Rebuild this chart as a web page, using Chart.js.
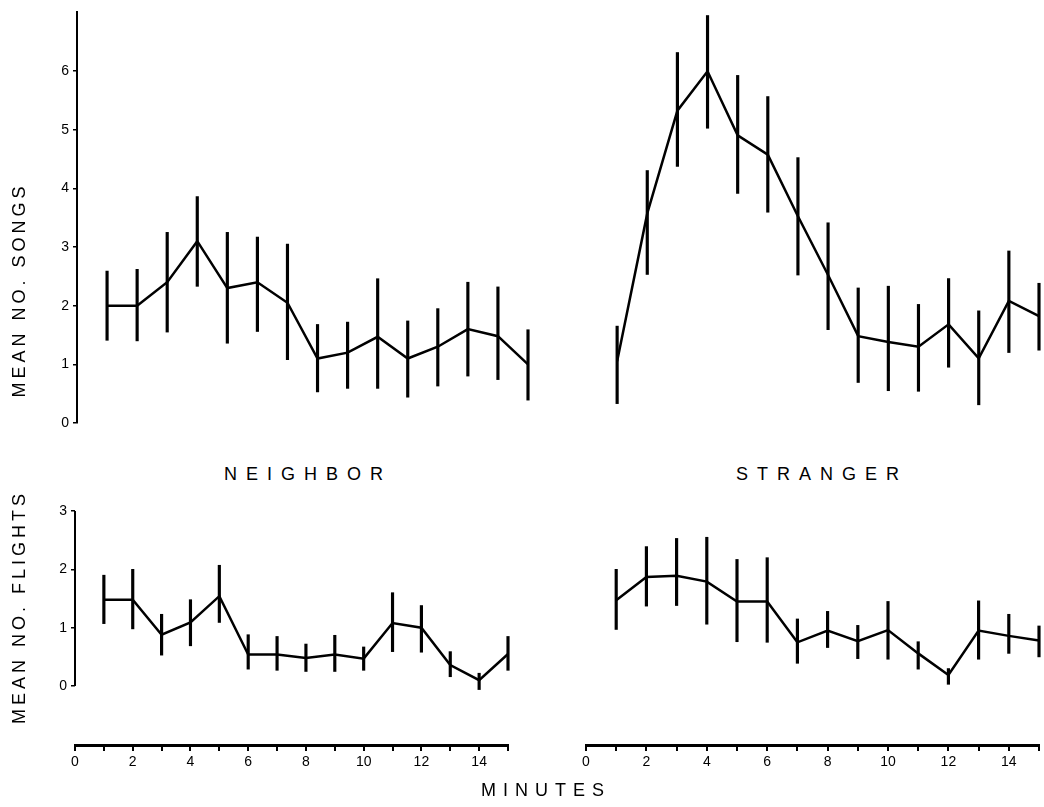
<!DOCTYPE html>
<html>
<head>
<meta charset="utf-8">
<script src="https://cdn.jsdelivr.net/npm/chart.js@4.4.1/dist/chart.umd.min.js"></script>
<style>
  body { margin: 0; background: #fff; }
  #wrap { position: relative; width: 1044px; height: 807px; font-family: 'Liberation Sans', Arial, sans-serif; color: #000; }
  canvas { position: absolute; }
  .lbl { position: absolute; font-size: 18px; white-space: nowrap; line-height: 1; }
  .rot { transform: translate(-50%, -50%) rotate(-90deg); }
  .ctr { transform: translate(-50%, -50%); }
</style>
</head>
<body>
<div id="wrap">
  <canvas id="songsNeighbor" width="540" height="440" style="left:0;top:0"></canvas>
  <canvas id="songsStranger" width="484" height="440" style="left:560px;top:0"></canvas>
  <canvas id="flightsNeighbor" width="540" height="317" style="left:0;top:490px"></canvas>
  <canvas id="flightsStranger" width="484" height="317" style="left:560px;top:490px"></canvas>

  <div class="lbl rot" style="left:19px;top:290px;letter-spacing:4px">MEAN NO. SONGS</div>
  <div class="lbl rot" style="left:19px;top:607px;letter-spacing:4px">MEAN NO. FLIGHTS</div>
  <div class="lbl ctr" style="left:308px;top:474px;letter-spacing:9px">NEIGHBOR</div>
  <div class="lbl ctr" style="left:822px;top:474px;letter-spacing:9px">STRANGER</div>
  <div class="lbl ctr" style="left:546px;top:790px;letter-spacing:7px">MINUTES</div>
</div>
<script>
var minutes = [1, 2, 3, 4, 5, 6, 7, 8, 9, 10, 11, 12, 13, 14, 15];
var songTicks = [0, 1, 2, 3, 4, 5, 6];
var flightTicks = [0, 1, 2, 3];
var minuteTicks = [0, 2, 4, 6, 8, 10, 12, 14];

var neighborSongs   = [2.0, 2.0, 2.4, 3.1, 2.3, 2.4, 2.05, 1.1, 1.2, 1.47, 1.1, 1.3, 1.6, 1.48, 1.0];
var neighborSongsLo = [1.41, 1.40, 1.55, 2.33, 1.36, 1.56, 1.08, 0.53, 0.59, 0.59, 0.44, 0.63, 0.80, 0.74, 0.39];
var neighborSongsHi = [2.59, 2.62, 3.25, 3.86, 3.25, 3.17, 3.05, 1.68, 1.72, 2.46, 1.74, 1.95, 2.40, 2.32, 1.59];

var strangerSongs   = [1.05, 3.57, 5.32, 5.99, 4.9, 4.57, 3.52, 2.52, 1.48, 1.38, 1.30, 1.68, 1.10, 2.08, 1.82];
var strangerSongsLo = [0.33, 2.53, 4.37, 5.02, 3.91, 3.59, 2.52, 1.59, 0.69, 0.55, 0.54, 0.95, 0.31, 1.20, 1.24];
var strangerSongsHi = [1.65, 4.30, 6.31, 6.94, 5.92, 5.56, 4.52, 3.41, 2.30, 2.33, 2.02, 2.46, 1.91, 2.93, 2.38];

var neighborFlights   = [1.48, 1.48, 0.88, 1.09, 1.54, 0.54, 0.54, 0.48, 0.54, 0.47, 1.08, 1.0, 0.36, 0.10, 0.55];
var neighborFlightsLo = [1.07, 0.98, 0.53, 0.69, 1.09, 0.29, 0.27, 0.25, 0.25, 0.27, 0.59, 0.58, 0.16, -0.06, 0.27];
var neighborFlightsHi = [1.90, 2.0, 1.23, 1.48, 2.07, 0.88, 0.85, 0.72, 0.87, 0.67, 1.60, 1.38, 0.59, 0.22, 0.85];

var strangerFlights   = [1.47, 1.87, 1.89, 1.79, 1.45, 1.45, 0.75, 0.95, 0.77, 0.96, 0.56, 0.19, 0.95, 0.86, 0.78];
var strangerFlightsLo = [0.97, 1.37, 1.38, 1.06, 0.76, 0.75, 0.39, 0.66, 0.47, 0.46, 0.29, 0.03, 0.46, 0.56, 0.50];
var strangerFlightsHi = [2.0, 2.39, 2.53, 2.55, 2.17, 2.20, 1.15, 1.28, 1.04, 1.45, 0.76, 0.30, 1.46, 1.23, 1.03];

var tickFont = { family: "'Liberation Sans', Arial, sans-serif", size: 14 };

// y axis line for the flights panels only runs from 0 to 3
var partialBorder = {
    id: 'partialBorder',
    afterDraw: function (chart) {
        var y = chart.scales.y;
        if (!y.options.display) return;
        var ctx = chart.ctx;
        ctx.save();
        ctx.strokeStyle = '#000';
        ctx.lineWidth = 2;
        ctx.beginPath();
        ctx.moveTo(y.right, y.getPixelForValue(flightTicks[flightTicks.length - 1]));
        ctx.lineTo(y.right, y.getPixelForValue(flightTicks[0]));
        ctx.stroke();
        ctx.restore();
    }
};

function makePanel(id, means, lo, hi, opt) {
    var ctx = document.getElementById(id).getContext('2d');
    return new Chart(ctx, {
        type: 'line',
        data: {
            datasets: [{
                type: 'line',
                data: minutes.map(function (m, i) { return { x: m, y: means[i] }; }),
                borderColor: '#000',
                borderWidth: 2.5,
                pointRadius: 0,
                tension: 0,
                clip: false,
            }, {
                type: 'bar',
                data: minutes.map(function (m, i) { return { x: m, y: [lo[i], hi[i]] }; }),
                backgroundColor: '#000',
                borderWidth: 0,
                barThickness: 2.5,
                grouped: false,
                clip: false,
            }]
        },
        options: {
            responsive: false,
            animation: false,
            layout: { padding: opt.padding },
            plugins: { legend: { display: false }, tooltip: { enabled: false } },
            scales: {
                x: {
                    type: 'linear',
                    min: 0,
                    max: 15,
                    offset: false,
                    display: opt.showX,
                    grid: { offset: false, drawOnChartArea: false, drawTicks: true, tickLength: 6, color: '#000', lineWidth: 2 },
                    border: { display: true, color: '#000', width: 3 },
                    ticks: {
                        stepSize: 1,
                        autoSkip: false,
                        maxRotation: 0,
                        padding: 3,
                        color: '#000',
                        font: tickFont,
                        callback: function (v) { return minuteTicks.indexOf(v) >= 0 ? String(v) : ''; }
                    },
                    afterFit: function (s) { if (opt.showX) s.height = 30; }
                },
                y: {
                    type: 'linear',
                    min: opt.yMin,
                    max: opt.yMax,
                    display: opt.showY,
                    grid: { drawOnChartArea: false, drawTicks: true, tickLength: 4, color: '#000', lineWidth: 1.5 },
                    border: { display: opt.fullBorder, color: '#000', width: 2 },
                    ticks: { padding: 4, color: '#000', font: { family: tickFont.family, size: 14 } },
                    afterBuildTicks: function (s) {
                        s.ticks = opt.yTicks.map(function (v) { return { value: v }; });
                    },
                    afterFit: function (s) { if (opt.showY) s.width = opt.yWidth; }
                }
            }
        },
        plugins: opt.fullBorder ? [] : [partialBorder]
    });
}

makePanel('songsNeighbor', neighborSongs, neighborSongsLo, neighborSongsHi, {
    padding: { top: 12, bottom: 17, left: 0, right: 12 },
    showX: false, showY: true, fullBorder: true,
    yMin: 0, yMax: 7, yTicks: songTicks, yWidth: 77
});
makePanel('songsStranger', strangerSongs, strangerSongsLo, strangerSongsHi, {
    padding: { top: 12, bottom: 17, left: 27, right: 5 },
    showX: false, showY: false, fullBorder: true,
    yMin: 0, yMax: 7, yTicks: songTicks, yWidth: 0
});
makePanel('flightsNeighbor', neighborFlights, neighborFlightsLo, neighborFlightsHi, {
    padding: { top: 21, bottom: 32, left: 0, right: 32 },
    showX: true, showY: true, fullBorder: false,
    yMin: -1.01, yMax: 3, yTicks: flightTicks, yWidth: 75
});
makePanel('flightsStranger', strangerFlights, strangerFlightsLo, strangerFlightsHi, {
    padding: { top: 21, bottom: 32, left: 26, right: 5 },
    showX: true, showY: false, fullBorder: false,
    yMin: -1.01, yMax: 3, yTicks: flightTicks, yWidth: 0
});
</script>
</body>
</html>
